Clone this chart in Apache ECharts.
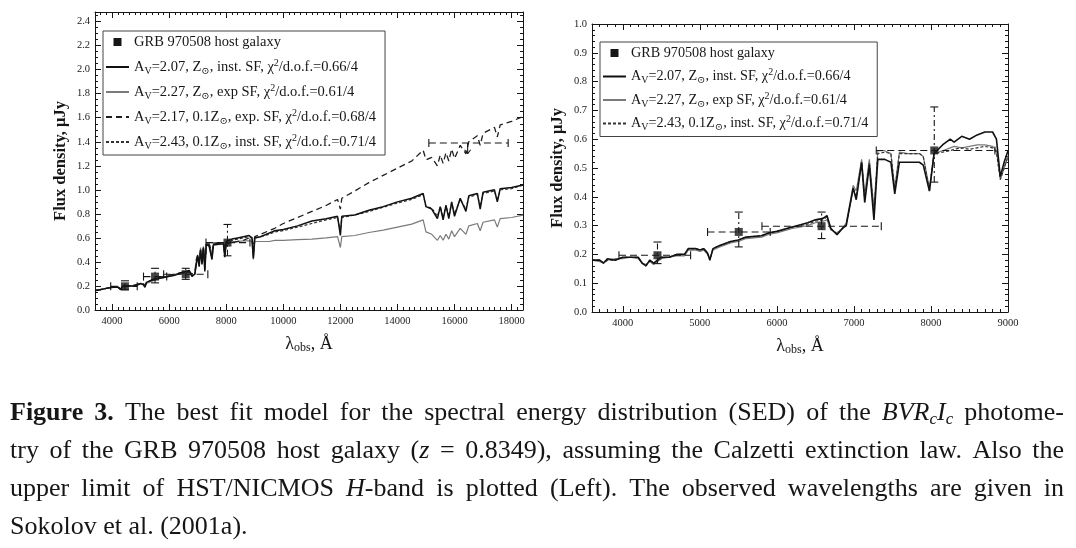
<!DOCTYPE html>
<html><head><meta charset="utf-8">
<script src="https://cdn.jsdelivr.net/npm/echarts@6/dist/echarts.min.js"></script>
<style>html,body{margin:0;padding:0;background:#fff}#c{width:1076px;height:548px}</style>
</head><body><div id="c"></div>
<script>
// ---------- data ----------
const leftWl = [3400,3600,3800,4000,4200,4300,4400,4600,4800,5000,5100,5150,5200,5400,5600,5800,6000,6200,6400,6600,6700,6800,6900,6950,7000,7050,7100,7150,7200,7250,7300,7350,7400,7500,7550,7600,7800,7900,7950,8000,8200,8400,8600,8800,8900,8950,9000,9200,9500,9700,10000,10500,11000,11500,11900,12000,12050,12100,12500,13000,13500,14000,14500,14900,15000,15050,15200,15400,15500,15600,15700,15800,15900,16000,16200,16400,16500,16800,16900,17000,17400,17500,17600,18000,18400];
const leftInstSolar = [.16,.17,.18,.19,.19,.17,.20,.20,.20,.22,.21,.19,.23,.25,.26,.27,.28,.29,.31,.32,.33,.28,.30,.38,.45,.36,.50,.38,.52,.32,.55,.54,.53,.42,.54,.54,.55,.55,.44,.57,.59,.60,.61,.62,.60,.43,.60,.61,.64,.66,.67,.70,.74,.76,.78,.62,.78,.78,.79,.83,.86,.90,.93,.97,.86,.85,.84,.76,.86,.75,.87,.76,.90,.78,.93,.82,.95,.97,.84,.98,1.00,.90,1.01,1.02,1.04];
const leftExpSolar = [.16,.17,.18,.185,.19,.17,.20,.20,.20,.22,.21,.19,.22,.24,.26,.27,.28,.29,.30,.31,.32,.28,.30,.40,.46,.38,.52,.40,.53,.35,.55,.56,.56,.44,.56,.56,.56,.56,.45,.56,.57,.57,.575,.575,.57,.42,.57,.57,.57,.58,.58,.585,.59,.60,.61,.52,.61,.61,.62,.645,.665,.69,.715,.75,.65,.64,.63,.58,.62,.58,.63,.59,.66,.61,.68,.63,.70,.72,.66,.73,.75,.69,.76,.77,.79];
const leftExpLowZ = [.165,.17,.18,.19,.19,.18,.20,.20,.21,.22,.22,.20,.23,.25,.27,.28,.29,.30,.31,.32,.32,.30,.31,.42,.46,.40,.50,.42,.52,.40,.53,.54,.55,.48,.55,.55,.56,.56,.50,.55,.56,.57,.58,.60,.60,.55,.61,.63,.66,.68,.72,.77,.82,.87,.92,.84,.93,.93,.99,1.06,1.12,1.18,1.24,1.33,1.25,1.25,1.27,1.20,1.29,1.22,1.31,1.24,1.34,1.26,1.37,1.30,1.40,1.45,1.37,1.47,1.52,1.44,1.54,1.57,1.61];
const leftInstLowZ = [.16,.17,.18,.19,.19,.175,.20,.20,.205,.22,.215,.195,.23,.25,.265,.275,.285,.295,.305,.315,.32,.285,.30,.39,.45,.37,.50,.39,.52,.34,.54,.54,.54,.43,.55,.55,.55,.55,.45,.56,.58,.59,.60,.61,.60,.45,.60,.61,.63,.65,.66,.69,.72,.75,.77,.66,.77,.77,.79,.82,.855,.89,.92,.96,.86,.86,.85,.78,.86,.77,.87,.78,.89,.80,.92,.84,.94,.96,.86,.97,.99,.91,1.00,1.01,1.04];

const rightWl = [3600,3700,3750,3800,3900,4000,4100,4200,4250,4300,4350,4400,4500,4600,4700,4800,4850,4950,5000,5050,5100,5130,5170,5250,5400,5500,5600,5800,5900,6000,6200,6400,6500,6600,6650,6700,6780,6850,6900,6990,7030,7100,7140,7200,7260,7310,7400,7480,7530,7590,7700,7850,7900,7980,8040,8150,8250,8300,8400,8500,8600,8700,8800,8850,8900,8950,9000];
const rightInstSolar = [.18,.18,.17,.185,.18,.19,.19,.19,.17,.16,.18,.17,.19,.19,.20,.20,.22,.22,.215,.22,.205,.18,.22,.23,.245,.25,.26,.265,.275,.28,.295,.31,.32,.325,.335,.29,.268,.29,.30,.43,.39,.52,.38,.51,.32,.53,.53,.52,.41,.52,.52,.52,.51,.42,.55,.58,.60,.59,.61,.60,.615,.625,.625,.60,.47,.52,.56];
const rightExpSolar = [.18,.175,.17,.18,.185,.185,.19,.185,.17,.165,.175,.165,.185,.19,.195,.195,.215,.215,.21,.215,.20,.185,.215,.225,.24,.245,.255,.26,.27,.275,.29,.30,.31,.315,.32,.285,.275,.29,.31,.44,.42,.53,.41,.53,.36,.56,.56,.55,.43,.555,.55,.55,.54,.43,.55,.56,.57,.575,.57,.575,.58,.58,.575,.56,.46,.50,.54];
const rightInstLowZ = [.18,.18,.17,.18,.18,.19,.19,.19,.17,.16,.18,.17,.19,.19,.20,.20,.22,.22,.215,.22,.205,.18,.22,.23,.245,.25,.26,.265,.275,.28,.295,.305,.315,.32,.33,.29,.27,.29,.30,.43,.40,.52,.39,.52,.34,.55,.555,.55,.42,.55,.55,.55,.54,.42,.55,.555,.56,.565,.57,.565,.57,.575,.57,.555,.46,.50,.54];

// B, V, Rc, Ic photometry
const bandWl = [4450, 5505, 6580, 8043];
const bandFlux = [0.197, 0.278, 0.298, 0.561];
const bandWlLo = [3950, 5100, 5806, 7290];
const bandWlHi = [4880, 5913, 7355, 8830];
const bandFluxLo = [0.168, 0.226, 0.255, 0.451];
const bandFluxHi = [0.243, 0.347, 0.347, 0.712];
// HST/NICMOS H-band upper limit
const hBandWl = [16460];
const hBandLimit = [1.39];
const hBandWlLo = [15100];
const hBandWlHi = [17880];
const hBandArrowTo = [1.30];

// ---------- names / text ----------
const SERIF = '"Liberation Serif", "DejaVu Serif", serif';
const INK = '#161616';
const N_HOST = 'GRB 970508 host galaxy';
const N_M1 = 'AV=2.07, Z⊙, inst. SF, χ2/d.o.f.=0.66/4';
const N_M2 = 'AV=2.27, Z⊙, exp SF, χ2/d.o.f.=0.61/4';
const N_M3 = 'AV=2.17, 0.1Z⊙, exp. SF, χ2/d.o.f.=0.68/4';
const N_M4 = 'AV=2.43, 0.1Z⊙, inst. SF, χ2/d.o.f.=0.71/4';
const legendLabel = {};
legendLabel[N_HOST] = 'GRB 970508 host galaxy';
legendLabel[N_M1] = 'A{s|V}=2.07, Z{s|⊙}, inst. SF, χ{p|2}/d.o.f.=0.66/4';
legendLabel[N_M2] = 'A{s|V}=2.27, Z{s|⊙}, exp SF, χ{p|2}/d.o.f.=0.61/4';
legendLabel[N_M3] = 'A{s|V}=2.17, 0.1Z{s|⊙}, exp. SF, χ{p|2}/d.o.f.=0.68/4';
legendLabel[N_M4] = 'A{s|V}=2.43, 0.1Z{s|⊙}, inst. SF, χ{p|2}/d.o.f.=0.71/4';

const captionLines = [
  '{b|Figure} {b|3.} The best fit model for the spectral energy distribution (SED) of the {i|BVR}{is|c}{i|I}{is|c} photome-',
  'try of the GRB 970508 host galaxy ({i|z} = 0.8349), assuming the Calzetti extinction law. Also the',
  'upper limit of HST/NICMOS {i|H}-band is plotted (Left). The observed wavelengths are given in',
  'Sokolov et al. (2001a).'
];

// ---------- helpers ----------
const pairs = (xs, ys) => xs.map((x, i) => [x, ys[i]]);
const bandData = bandWl.map((w, i) => [w, bandFlux[i], bandWlLo[i], bandWlHi[i], bandFluxLo[i], bandFluxHi[i]]);
const hData = hBandWl.map((w, i) => [w, hBandLimit[i], hBandWlLo[i], hBandWlHi[i], hBandArrowTo[i]]);

function seg(x1, y1, x2, y2, dash, w) {
  const st = {stroke: INK, lineWidth: w || 1.1, fill: null};
  if (dash) st.lineDash = dash;
  return {type: 'line', shape: {x1, y1, x2, y2}, style: st};
}
function errorBarItem(params, api) {
  const x = api.value(0), y = api.value(1);
  const pl = api.coord([api.value(2), y]);
  const ph = api.coord([api.value(3), y]);
  const pb = api.coord([x, api.value(4)]);
  const pt = api.coord([x, api.value(5)]);
  const c = 4;
  return {type: 'group', children: [
    seg(pl[0], pl[1], ph[0], ph[1], [7, 4]),
    seg(pl[0], pl[1] - c, pl[0], pl[1] + c),
    seg(ph[0], ph[1] - c, ph[0], ph[1] + c),
    seg(pb[0], pb[1], pt[0], pt[1], [6, 3, 2, 3]),
    seg(pb[0] - c, pb[1], pb[0] + c, pb[1]),
    seg(pt[0] - c, pt[1], pt[0] + c, pt[1])
  ]};
}
function upperLimitItem(params, api) {
  const x = api.value(0), y = api.value(1);
  const pl = api.coord([api.value(2), y]);
  const ph = api.coord([api.value(3), y]);
  const pa = api.coord([x, y]);
  const pe = api.coord([x, api.value(4)]);
  const c = 4;
  return {type: 'group', children: [
    seg(pl[0], pl[1], ph[0], ph[1], [7, 4]),
    seg(pl[0], pl[1] - c, pl[0], pl[1] + c),
    seg(ph[0], ph[1] - c, ph[0], ph[1] + c),
    seg(pa[0], pa[1], pe[0], pe[1]),
    seg(pe[0] - 3, pe[1] - 4, pe[0], pe[1]),
    seg(pe[0] + 3, pe[1] - 4, pe[0], pe[1])
  ]};
}

const tickLabel = {fontFamily: SERIF, fontSize: 10.5, color: '#222'};
function xAxes(gi, min, max, minorInterval, splitNumber, withName) {
  const common = {type: 'value', gridIndex: gi, min, max, splitLine: {show: false},
    axisLine: {lineStyle: {color: INK, width: 1}}};
  const major = (pos, labels) => Object.assign({}, common, {
    position: pos, splitNumber,
    axisTick: {inside: true, length: 6, lineStyle: {color: INK}},
    axisLabel: labels ? Object.assign({show: true, margin: 6,
      formatter: v => (Math.abs(v % 1000) < 1e-6 ? String(v) : '')}, tickLabel) : {show: false},
    name: labels && withName ? 'λ{s|obs}, Å' : '',
    nameLocation: 'middle', nameGap: 24,
    nameTextStyle: {fontFamily: SERIF, fontSize: 18, color: INK, lineHeight: 20,
      rich: {s: {fontFamily: SERIF, fontSize: 12, lineHeight: 10, verticalAlign: 'bottom', color: INK}}}
  });
  const minor = pos => Object.assign({}, common, {
    position: pos, interval: minorInterval, axisLine: {show: false},
    axisTick: {inside: true, length: 3, lineStyle: {color: INK}},
    axisLabel: {show: false}
  });
  return [major('bottom', true), minor('bottom'), major('top', false), minor('top')];
}
function yAxes(gi, max, interval, minorSplit) {
  const common = {type: 'value', gridIndex: gi, min: 0, max, interval, splitLine: {show: false},
    axisLine: {lineStyle: {color: INK, width: 1}},
    axisTick: {inside: true, length: 6, lineStyle: {color: INK}},
    minorTick: {show: true, splitNumber: minorSplit, length: 3, lineStyle: {color: INK}}};
  return [
    Object.assign({}, common, {position: 'left',
      axisLabel: Object.assign({margin: 5, formatter: v => (Math.abs(v * 10 - Math.round(v * 10)) < 1e-6 ? v.toFixed(1) : '')}, tickLabel),
      name: 'Flux density, μJy', nameLocation: 'middle', nameGap: 26, nameRotate: 90,
      nameTextStyle: {fontFamily: SERIF, fontSize: 16.5, fontWeight: 'bold', color: INK}}),
    Object.assign({}, common, {position: 'right', axisLabel: {show: false}})
  ];
}

function lineSeries(name, data, xi, yi, color, width, dash, z) {
  return {type: 'line', name, data, xAxisIndex: xi, yAxisIndex: yi, showSymbol: false, symbol: 'none',
    clip: true, animation: false, z,
    lineStyle: {color, width, type: dash || 'solid'}, itemStyle: {color}};
}

function legendBox(left, top, gap, names, fs) {
  const rich = {
    s: {fontFamily: SERIF, fontSize: 10, lineHeight: 10, verticalAlign: 'bottom', color: INK},
    p: {fontFamily: SERIF, fontSize: 10, lineHeight: 10, verticalAlign: 'top', color: INK}
  };
  return {
    left, top, orient: 'vertical', itemWidth: 23, itemHeight: 8, itemGap: gap,
    padding: [2, 9, 4, 2], borderColor: '#444', borderWidth: 1, backgroundColor: '#fff',
    selectedMode: false, z: 20,
    data: names.map(n => n === N_HOST
      ? {name: n, icon: 'path://M0,0H10V10H0Z', itemStyle: {opacity: 1}}
      : {name: n, itemStyle: {opacity: 0}}),
    formatter: n => legendLabel[n],
    textStyle: {fontFamily: SERIF, fontSize: fs, color: INK, lineHeight: 18, rich}
  };
}

// ---------- caption (justified) ----------
const CAP_SIZE = 26;
const CAP_SUB = 17;
const capFonts = {
  n: CAP_SIZE + 'px ' + SERIF,
  b: 'bold ' + CAP_SIZE + 'px ' + SERIF,
  i: 'italic ' + CAP_SIZE + 'px ' + SERIF,
  is: 'italic ' + CAP_SUB + 'px ' + SERIF
};
const capRich = {
  b: {fontFamily: SERIF, fontSize: CAP_SIZE, fontWeight: 'bold', fill: INK, lineHeight: 30},
  i: {fontFamily: SERIF, fontSize: CAP_SIZE, fontStyle: 'italic', fill: INK, lineHeight: 30},
  is: {fontFamily: SERIF, fontSize: CAP_SUB, fontStyle: 'italic', fill: INK, lineHeight: 17, verticalAlign: 'bottom'}
};
const mctx = document.createElement('canvas').getContext('2d');
function wordWidth(w) {
  const re = /\{(\w+)\|([^}]*)\}|([^{]+)/g; let m, tot = 0;
  while ((m = re.exec(w))) {
    const key = m[1] || 'n';
    const txt = m[1] ? m[2] : m[3];
    mctx.font = capFonts[key];
    tot += mctx.measureText(txt).width;
  }
  return tot;
}
const capX0 = 10, capX1 = 1064;
const capY = [413, 451, 489, 527];
const captionGraphics = [];
captionLines.forEach((line, li) => {
  const words = line.split(' ');
  const widths = words.map(wordWidth);
  const sum = widths.reduce((a, b) => a + b, 0);
  mctx.font = capFonts.n;
  const justify = li < captionLines.length - 1;
  const gap = justify ? (capX1 - capX0 - sum) / (words.length - 1) : mctx.measureText(' ').width;
  let x = capX0;
  words.forEach((w, wi) => {
    captionGraphics.push({type: 'text', x, y: capY[li], silent: true,
      style: {text: w, rich: capRich, fontFamily: SERIF, fontSize: CAP_SIZE, fill: INK,
        lineHeight: 30, align: 'left', verticalAlign: 'middle'}});
    x += widths[wi] + gap;
  });
});

// ---------- chart ----------
const chart = echarts.init(document.getElementById('c'), null, {renderer: 'canvas'});
const option = {
  backgroundColor: '#fff',
  animation: false,
  grid: [
    {left: 95, top: 12, width: 428, height: 298},
    {left: 592, top: 24, width: 416, height: 288}
  ],
  xAxis: [].concat(xAxes(0, 3400, 18400, 200, 7, true), xAxes(1, 3600, 9000, 100, 5, true)),
  yAxis: [].concat(yAxes(0, 2.48, 0.2, 4), yAxes(1, 1.0, 0.1, 5)),
  legend: [
    legendBox(103, 31, 7, [N_HOST, N_M1, N_M2, N_M3, N_M4], 14.5),
    legendBox(600, 42, 5.5, [N_HOST, N_M1, N_M2, N_M4], 14.2)
  ],
  graphic: captionGraphics,
  series: [
    // left panel
    lineSeries(N_M2, pairs(leftWl, leftExpSolar), 0, 0, '#7a7a7a', 1.2, null, 2),
    lineSeries(N_M3, pairs(leftWl, leftExpLowZ), 0, 0, '#1e1e1e', 1.3, [6, 4], 3),
    lineSeries(N_M4, pairs(leftWl, leftInstLowZ), 0, 0, '#333333', 1.2, [3, 2], 3),
    lineSeries(N_M1, pairs(leftWl, leftInstSolar), 0, 0, '#111111', 1.5, null, 4),
    {type: 'custom', name: 'left photometry errors', xAxisIndex: 0, yAxisIndex: 0, data: bandData,
      renderItem: errorBarItem, encode: {x: [0, 2, 3], y: [1, 4, 5]}, z: 5, clip: true},
    {type: 'custom', name: 'H-band upper limit', xAxisIndex: 0, yAxisIndex: 0, data: hData,
      renderItem: upperLimitItem, encode: {x: [0, 2, 3], y: [1, 4]}, z: 5, clip: true},
    {type: 'scatter', name: N_HOST, xAxisIndex: 0, yAxisIndex: 0, data: pairs(bandWl, bandFlux),
      symbol: 'rect', symbolSize: 8, itemStyle: {color: INK}, z: 6},
    // right panel
    lineSeries(N_M2, pairs(rightWl, rightExpSolar), 4, 2, '#7a7a7a', 1.2, null, 2),
    lineSeries(N_M4, pairs(rightWl, rightInstLowZ), 4, 2, '#333333', 1.2, [3, 2], 3),
    lineSeries(N_M1, pairs(rightWl, rightInstSolar), 4, 2, '#111111', 1.6, null, 4),
    {type: 'custom', name: 'right photometry errors', xAxisIndex: 4, yAxisIndex: 2, data: bandData,
      renderItem: errorBarItem, encode: {x: [0, 2, 3], y: [1, 4, 5]}, z: 5, clip: true},
    {type: 'scatter', name: N_HOST, xAxisIndex: 4, yAxisIndex: 2, data: pairs(bandWl, bandFlux),
      symbol: 'rect', symbolSize: 8, itemStyle: {color: INK}, z: 6}
  ]
};
chart.setOption(option);
</script></body></html>
